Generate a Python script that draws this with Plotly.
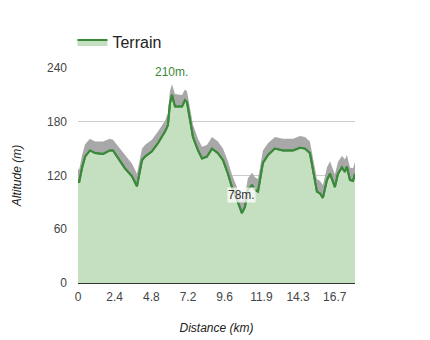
import plotly.graph_objects as go

distance_km = [0.00, 0.07, 0.26, 0.46, 0.78, 1.11, 1.63, 2.08, 2.28, 2.74, 3.06, 3.52, 3.84,
               4.17, 4.36, 4.82, 5.21, 5.67, 5.86, 5.99, 6.12, 6.32, 6.78, 6.97, 7.10, 7.30,
               7.49, 7.82, 8.08, 8.40, 8.73, 9.12, 9.45, 9.77, 10.03, 10.36, 10.68, 10.88,
               11.07, 11.34, 11.53, 11.73, 11.86, 12.05, 12.38, 12.83, 13.36, 14.01, 14.46,
               14.79, 15.11, 15.31, 15.57, 15.77, 15.96, 16.22, 16.42, 16.74, 16.94, 17.20,
               17.39, 17.52, 17.72, 17.92, 18.05]
altitude_m = [115, 112, 128, 141, 148, 145, 144, 148, 148, 137, 128, 119, 108,
              137, 141, 147, 156, 169, 176, 200, 210, 197, 197, 204, 202, 182,
              163, 148, 139, 141, 150, 145, 137, 122, 107, 93, 78, 85,
              104, 109, 104, 102, 115, 134, 143, 150, 148, 148, 151,
              150, 145, 126, 102, 100, 95, 115, 122, 107, 122, 129,
              124, 130, 115, 114, 122]
shade_top_m = [128, 126, 142, 155, 161, 158, 158, 161, 160, 150, 142, 133, 122,
               150, 154, 160, 169, 181, 190, 214, 222, 211, 210, 216, 214, 196,
               177, 161, 152, 154, 163, 158, 150, 136, 121, 107, 91, 98,
               117, 123, 118, 116, 129, 148, 156, 163, 161, 161, 164,
               163, 158, 140, 116, 114, 109, 129, 136, 121, 135, 142,
               138, 143, 129, 128, 135]

x_tick_vals = [0, 2.39, 4.78, 7.17, 9.56, 11.95, 14.34, 16.73]
x_tick_text = ["0", "2.4", "4.8", "7.2", "9.6", "11.9", "14.3", "16.7"]
y_tick_vals = [0, 60, 120, 180, 240]

peak_i = altitude_m.index(max(altitude_m))
low_i = altitude_m.index(min(altitude_m))

font = "Liberation Sans, Arial, sans-serif"
line_green = "#3b8a3b"

fig = go.Figure()
fig.add_trace(go.Scatter(
    x=distance_km, y=altitude_m, mode="lines", name="Terrain",
    line=dict(color=line_green, width=2), fill="tozeroy",
    fillcolor="rgb(197,224,192)", showlegend=True, hoverinfo="skip"))
fig.add_trace(go.Scatter(
    x=distance_km, y=shade_top_m, mode="lines", fill="tonexty",
    fillcolor="rgb(168,168,168)", line=dict(width=0, color="rgba(0,0,0,0)"),
    showlegend=False, hoverinfo="skip"))
fig.add_trace(go.Scatter(
    x=distance_km, y=altitude_m, mode="lines",
    line=dict(color=line_green, width=2), showlegend=False, hoverinfo="skip"))

fig.add_annotation(x=distance_km[peak_i], y=shade_top_m[peak_i], text=f"{altitude_m[peak_i]}m.",
                   showarrow=False, yshift=12, font=dict(family=font, size=12, color=line_green))
fig.add_annotation(x=distance_km[low_i], y=altitude_m[low_i], text=f"{altitude_m[low_i]}m.",
                   showarrow=False, yshift=18, font=dict(family=font, size=12, color="#333333"),
                   bgcolor="rgba(255,255,255,0.75)", borderpad=0)

fig.update_layout(
    width=430, height=340,
    margin=dict(l=78, r=75, t=68, b=57),
    paper_bgcolor="white", plot_bgcolor="white",
    font=dict(family=font, size=12, color="#444444"),
    showlegend=True,
    legend=dict(x=-0.02, y=1.12, xanchor="left", yanchor="middle",
                font=dict(family=font, size=16, color="#222222"),
                bgcolor="rgba(0,0,0,0)"),
    xaxis=dict(range=[0, 18.05], tickvals=x_tick_vals, ticktext=x_tick_text,
               showgrid=False, zeroline=False, showline=False, ticks="", automargin=False,
               ticklabelstandoff=5, tickfont=dict(size=12, color="#444444"),
               title=dict(text="<i>Distance (km)</i>", font=dict(size=12, color="#222222"), standoff=20)),
    yaxis=dict(range=[0, 240], tickvals=y_tick_vals, showgrid=True, gridcolor="#cccccc",
               zeroline=True, zerolinecolor="#333333", zerolinewidth=1, ticks="", automargin=False,
               ticklabelstandoff=10, tickfont=dict(size=12, color="#444444"),
               title=dict(text="<i>Altitude (m)</i>", font=dict(size=12, color="#222222"), standoff=22)),
)

fig.write_html("out.html")
